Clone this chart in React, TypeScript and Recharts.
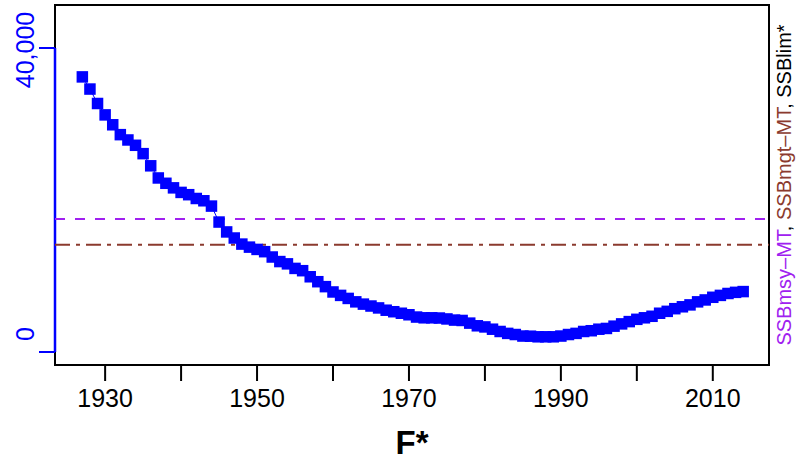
import {
  ComposedChart,
  Line,
  XAxis,
  YAxis,
  ReferenceLine,
  ReferenceArea
} from 'recharts';

const FONT = '"Liberation Sans", Arial, Helvetica, sans-serif';

const years = [
  1927, 1928, 1929, 1930, 1931, 1932, 1933, 1934, 1935, 1936,
  1937, 1938, 1939, 1940, 1941, 1942, 1943, 1944, 1945, 1946,
  1947, 1948, 1949, 1950, 1951, 1952, 1953, 1954, 1955, 1956,
  1957, 1958, 1959, 1960, 1961, 1962, 1963, 1964, 1965, 1966,
  1967, 1968, 1969, 1970, 1971, 1972, 1973, 1974, 1975, 1976,
  1977, 1978, 1979, 1980, 1981, 1982, 1983, 1984, 1985, 1986,
  1987, 1988, 1989, 1990, 1991, 1992, 1993, 1994, 1995, 1996,
  1997, 1998, 1999, 2000, 2001, 2002, 2003, 2004, 2005, 2006,
  2007, 2008, 2009, 2010, 2011, 2012, 2013, 2014
];

const ssb = [
  36200, 34600, 32700, 31200, 29900, 28600, 27900, 27200, 26100, 24500,
  22900, 22200, 21600, 21000, 20700, 20200, 19900, 19200, 17100, 15800,
  15000, 14200, 13800, 13500, 13200, 12500, 11900, 11600, 11000, 10700,
  9900, 9250, 8600, 7900, 7450, 7050, 6600, 6300, 6050, 5800,
  5500, 5300, 5100, 4900, 4600, 4500, 4500, 4470, 4350, 4200,
  4150, 3800, 3450, 3300, 3000, 2700, 2450, 2300, 2100, 2080,
  2000, 2000, 2000, 2100, 2300, 2450, 2700, 2800, 3000, 3100,
  3400, 3700, 4000, 4300, 4500, 4700, 5100, 5350, 5700, 5950,
  6200, 6600, 6850, 7200, 7450, 7700, 7850, 7950
];

const xTicks = [1930, 1940, 1950, 1960, 1970, 1980, 1990, 2000, 2010];
const xLabelled = [1930, 1950, 1970, 1990, 2010];
const yTicks = [0, 40000];

const ssbMsy = 17500;
const ssbMgt = 14100;

const xDomain = [1923.4, 2017.4];
const yDomain = [-1710, 45660];

const data = years.map((year, i) => ({ year, ssb: ssb[i] }));

const BLUE = '#0000ff';
const PURPLE = '#a020f0';
const BROWN = '#8b3a2e';

// square markers like R's pch=15
const SquareDot = (props: any) => {
  const { cx, cy, index } = props;
  const s = 11.5;
  return <rect key={`sq-${index}`} x={cx - s / 2} y={cy - s / 2} width={s} height={s} fill={BLUE} />;
};

const YTick = (props: any) => {
  const { x, y, payload } = props;
  // the "0" label sits a little above its tick in the original
  const dy = payload.value === 0 ? -18 : 2;
  return (
    <text
      transform={`translate(${x - 3},${y + dy}) rotate(-90)`}
      textAnchor="middle"
      fill={BLUE}
      fontSize={25}
      fontFamily={FONT}
    >
      {payload.value.toLocaleString('en-US')}
    </text>
  );
};

const XTitle = (props: any) => {
  const vb = props.viewBox;
  return (
    <text
      x={vb.x + vb.width / 2}
      y={vb.y + 89}
      textAnchor="middle"
      fontSize={33}
      fontWeight="bold"
      fontFamily={FONT}
      fill="#000"
    >
      F*
    </text>
  );
};

const RightTitle = (props: any) => {
  const vb = props.viewBox;
  return (
    <text
      transform={`translate(${vb.x + 22},${vb.y + vb.height / 2}) rotate(-90)`}
      textAnchor="middle"
      fontSize={20}
      fontFamily={FONT}
    >
      <tspan fill={PURPLE}>SSBmsy–MT</tspan>
      <tspan fill="#000">, </tspan>
      <tspan fill={BROWN}>SSBmgt–MT</tspan>
      <tspan fill="#000">, SSBlim*</tspan>
    </text>
  );
};

export default function App() {
  return (
    <div style={{ position: 'absolute', left: 0, top: 0, background: '#fff' }}>
      <ComposedChart
        width={803}
        height={460}
        data={data}
        margin={{ top: 5, right: 0, bottom: 35, left: 0 }}
      >
        <XAxis
          dataKey="year"
          type="number"
          domain={xDomain}
          ticks={xTicks}
          interval={0}
          allowDataOverflow
          axisLine={false}
          tickSize={16}
          tickMargin={8}
          tickLine={{ stroke: '#000', strokeWidth: 2 }}
          tick={{ fontSize: 25, fill: '#000', fontFamily: FONT }}
          tickFormatter={(v: number) => (xLabelled.includes(v) ? String(v) : '')}
          height={60}
          label={XTitle}
        />
        <YAxis
          yAxisId="left"
          type="number"
          domain={yDomain}
          ticks={yTicks}
          interval={0}
          allowDataOverflow
          axisLine={false}
          tickSize={16}
          tickLine={{ stroke: BLUE, strokeWidth: 2 }}
          tick={YTick}
          width={55}
        />
        <YAxis
          yAxisId="right"
          orientation="right"
          type="number"
          domain={yDomain}
          allowDataOverflow
          axisLine={false}
          tickLine={false}
          tick={false}
          width={34}
          label={RightTitle}
        />
        <ReferenceArea
          yAxisId="left"
          x1={xDomain[0]}
          x2={xDomain[1]}
          y1={yDomain[0]}
          y2={yDomain[1]}
          fill="none"
          stroke="#000"
          strokeWidth={2}
          ifOverflow="visible"
        />
        <ReferenceLine
          yAxisId="left"
          segment={[
            { x: xDomain[0], y: 0 },
            { x: xDomain[0], y: 40000 }
          ]}
          stroke={BLUE}
          strokeWidth={2.5}
          ifOverflow="visible"
        />
        <ReferenceLine yAxisId="left" y={ssbMsy} stroke={PURPLE} strokeWidth={2} strokeDasharray="10 10" />
        <ReferenceLine yAxisId="left" y={ssbMgt} stroke={BROWN} strokeWidth={2} strokeDasharray="15 6 4 6" />
        <Line
          yAxisId="left"
          dataKey="ssb"
          type="linear"
          stroke={BLUE}
          strokeWidth={1}
          dot={SquareDot}
          activeDot={false}
          isAnimationActive={false}
        />
      </ComposedChart>
    </div>
  );
}
